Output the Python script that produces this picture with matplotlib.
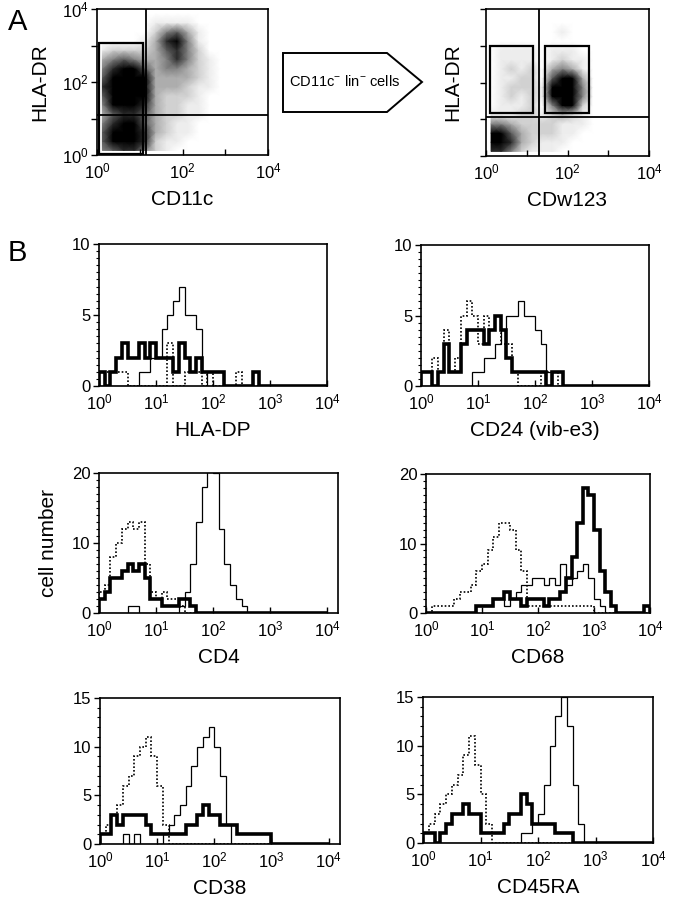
import numpy as np
from matplotlib import pyplot as plt
from matplotlib.patches import Polygon, Rectangle
from matplotlib.ticker import LogLocator, MultipleLocator, NullFormatter

plt.rcParams['font.family'] = ['Liberation Sans', 'DejaVu Sans']
plt.rcParams['mathtext.fontset'] = 'custom'
plt.rcParams['mathtext.rm'] = 'Liberation Sans'
plt.rcParams['mathtext.default'] = 'regular'

W, H = 675, 899

# ---- panel A: dot plot densities, 0.25 decade cells, rows from top (10^4) to bottom (10^0)
cd11c_grid = [
    [0, 0, 0, 0, 0, 0, 0, 0, 0, 0, 0, 0, 0, 0, 0, 0],
    [0, 0, 0, 0, 0, 1, 1, 1, 1, 0, 0, 0, 0, 0, 0, 0],
    [0, 0, 0, 0, 0, 2, 4, 5, 3, 1, 0, 0, 0, 0, 0, 0],
    [0, 0, 0, 0, 1, 3, 6, 7, 4, 1, 0, 0, 0, 0, 0, 0],
    [1, 2, 2, 2, 2, 3, 5, 6, 4, 2, 0, 0, 0, 0, 0, 0],
    [3, 4, 5, 4, 3, 3, 4, 6, 4, 2, 1, 0, 0, 0, 0, 0],
    [4, 6, 8, 7, 5, 3, 4, 4, 3, 2, 1, 0, 0, 0, 0, 0],
    [5, 9, 10, 10, 7, 3, 3, 3, 3, 2, 1, 0, 0, 0, 0, 0],
    [6, 10, 10, 10, 8, 3, 3, 3, 2, 1, 1, 0, 0, 0, 0, 0],
    [5, 9, 10, 10, 7, 3, 2, 2, 2, 1, 0, 0, 0, 0, 0, 0],
    [4, 7, 8, 8, 6, 3, 2, 2, 1, 1, 0, 0, 0, 0, 0, 0],
    [3, 5, 6, 6, 5, 3, 2, 2, 1, 1, 0, 0, 0, 0, 0, 0],
    [4, 6, 7, 7, 5, 3, 2, 1, 1, 0, 0, 0, 0, 0, 0, 0],
    [5, 8, 10, 9, 6, 3, 2, 1, 1, 0, 0, 0, 0, 0, 0, 0],
    [5, 8, 10, 9, 6, 2, 1, 1, 0, 0, 0, 0, 0, 0, 0, 0],
    [4, 5, 6, 6, 4, 2, 1, 0, 0, 0, 0, 0, 0, 0, 0, 0],
]
cdw123_grid = [
    [0, 0, 0, 0, 0, 0, 0, 0, 0, 0, 0, 0, 0, 0, 0, 0],
    [0, 0, 0, 0, 0, 0, 0, 0, 0, 0, 0, 0, 0, 0, 0, 0],
    [0, 0, 0, 0, 0, 0, 0, 1, 0, 0, 0, 0, 0, 0, 0, 0],
    [0, 0, 0, 0, 0, 0, 0, 0, 0, 0, 0, 0, 0, 0, 0, 0],
    [0, 1, 1, 1, 1, 0, 1, 1, 1, 0, 0, 0, 0, 0, 0, 0],
    [0, 1, 1, 1, 1, 0, 1, 2, 1, 1, 0, 0, 0, 0, 0, 0],
    [0, 1, 2, 1, 2, 0, 3, 4, 3, 1, 0, 0, 0, 0, 0, 0],
    [0, 1, 1, 2, 2, 0, 5, 8, 8, 3, 0, 0, 0, 0, 0, 0],
    [0, 1, 2, 2, 2, 1, 7, 10, 10, 4, 0, 0, 0, 0, 0, 0],
    [0, 1, 2, 1, 2, 1, 7, 10, 10, 4, 0, 0, 0, 0, 0, 0],
    [0, 1, 1, 1, 2, 0, 4, 7, 7, 2, 0, 0, 0, 0, 0, 0],
    [1, 1, 1, 2, 2, 1, 2, 3, 2, 1, 0, 0, 0, 0, 0, 0],
    [4, 4, 3, 2, 2, 2, 2, 1, 1, 1, 0, 0, 0, 0, 0, 0],
    [7, 8, 5, 3, 2, 2, 2, 1, 1, 0, 0, 0, 0, 0, 0, 0],
    [8, 9, 6, 3, 2, 1, 1, 1, 0, 0, 0, 0, 0, 0, 0, 0],
    [6, 6, 4, 2, 1, 1, 1, 0, 0, 0, 0, 0, 0, 0, 0, 0],
]
# gates (log10 units): quadrant lines and rectangles (x0, x1, y0, y1)
cd11c_quad = (1.15, 1.1)
cd11c_gates = [(0.04, 1.08, 0.03, 3.07)]
cdw123_quad = (1.30, 1.06)
cdw123_gates = [(0.10, 1.15, 1.17, 3.0), (1.45, 2.53, 1.17, 3.0)]

# ---- panel B: histograms, 0.1 decade bins from 10^0 to 10^4
def pad(vals):
    return vals + [0] * (40 - len(vals))

hladp_thin = pad([0, 0, 0, 0, 0, 0, 0, 1, 1, 2, 2, 4, 5, 6, 7, 5, 5, 4, 1])
hladp_thick = pad([1, 0, 1, 2, 3, 2, 2, 3, 2, 3, 2, 2, 2, 1, 3, 2, 1, 2, 1, 1, 1, 1, 0, 0, 0, 0, 0, 1])
hladp_dot = pad([1, 1, 1, 1, 1, 0, 0, 0, 0, 0, 0, 0, 3, 0, 0, 1, 1, 1, 0, 1, 0, 0, 0, 0, 1])

cd24_thin = pad([0, 0, 0, 0, 0, 0, 0, 0, 0, 1, 1, 2, 2, 3, 4, 5, 5, 6, 5, 5, 4, 3, 1])
cd24_thick = pad([1, 1, 0, 1, 3, 1, 1, 3, 4, 4, 4, 3, 4, 5, 4, 2, 1, 1, 1, 1, 1, 1, 0, 1, 1])
cd24_dot = pad([1, 1, 2, 1, 4, 1, 2, 5, 6, 5, 3, 5, 4, 5, 3, 3, 1, 0, 0, 0, 0, 1, 1, 1])

cd4_thin = pad([0, 0, 0, 0, 0, 1, 1, 0, 0, 0, 0, 0, 0, 0, 1, 3, 7, 13, 18, 21, 20, 12, 7, 4, 2, 1])
cd4_thick = pad([2, 3, 5, 5, 6, 7, 6, 7, 5, 2, 2, 1, 1, 1, 2, 2, 1])
cd4_dot = pad([3, 4, 8, 10, 12, 13, 12, 13, 7, 3, 2, 3, 2, 2, 1])

cd68_thin = pad([0, 0, 0, 0, 0, 0, 0, 0, 0, 1, 1, 1, 2, 2, 1, 2, 3, 4, 4, 5, 5, 4, 5, 4, 7, 4, 5, 6, 7, 5, 2, 1])
cd68_thick = pad([0, 0, 0, 0, 0, 0, 0, 0, 0, 1, 1, 1, 2, 2, 3, 2, 2, 1, 2, 2, 2, 1, 2, 2, 3, 5, 8, 13, 18, 17,
                  12, 6, 3, 1, 0, 0, 0, 0, 0, 1])
cd68_dot = pad([0, 1, 1, 1, 1, 2, 3, 3, 4, 6, 7, 9, 11, 13, 13, 12, 9, 6, 1, 1, 1, 1, 1, 1, 1, 1, 1, 1, 1, 1])

cd38_thin = pad([0, 0, 0, 0, 1, 0, 1, 0, 0, 0, 0, 1, 2, 3, 4, 6, 8, 10, 11, 12, 10, 7, 2])
cd38_thick = pad([1, 1, 3, 2, 3, 3, 3, 3, 2, 1, 1, 1, 1, 1, 1, 2, 2, 3, 4, 3, 3, 2, 2, 2, 1, 1, 1, 1, 1, 1])
cd38_dot = pad([1, 2, 3, 4, 6, 7, 9, 10, 11, 9, 6, 2])

cd45ra_thin = pad([0, 0, 0, 0, 0, 0, 0, 0, 0, 0, 0, 0, 0, 0, 0, 0, 0, 1, 1, 2, 3, 6, 10, 13, 15, 12, 6, 2])
cd45ra_thick = pad([1, 1, 0, 1, 2, 3, 3, 4, 3, 3, 1, 1, 1, 1, 2, 3, 3, 5, 4, 2, 2, 2, 2, 1, 1, 1])
cd45ra_dot = pad([1, 2, 3, 4, 5, 6, 7, 9, 11, 8, 5, 2])

edges = 10 ** np.linspace(0, 4, 41)
decade_labels = ['$10^{%d}$' % i for i in range(5)]


def add_ax(fig, l, t, r, b):
    return fig.add_axes([l / W, 1 - b / H, (r - l) / W, (b - t) / H])


def log_xaxis(ax, labels, xmax=1e4):
    ax.set_xscale('log')
    ax.set_xlim(1, xmax)
    ax.set_xticks([1, 10, 100, 1000, 10000])
    ax.set_xticklabels(labels)
    ax.xaxis.set_minor_locator(LogLocator(base=10, subs=np.arange(2, 10)))
    ax.xaxis.set_minor_formatter(NullFormatter())


def style(ax):
    for s in ax.spines.values():
        s.set_linewidth(1.2)
    ax.tick_params(axis='x', which='both', direction='in', labelsize=12, pad=5)
    ax.tick_params(axis='y', which='both', direction='out', labelsize=12, pad=2)
    ax.tick_params(which='major', length=4, width=1)
    ax.tick_params(which='minor', length=2.5, width=0.8)


def dot_plot(ax, grid, quad, gates, xlab, ylabels, ypad):
    c = np.array(grid, dtype=float)[::-1]
    centers = 10 ** (0.125 + 0.25 * np.arange(16))
    X, Y = np.meshgrid(centers, centers)
    ax.pcolormesh(X, Y, c, cmap='Greys', vmin=0, vmax=7, shading='gouraud')
    log_xaxis(ax, ['$10^{0}$', '', '$10^{2}$', '', '$10^{4}$'])
    ax.set_yscale('log')
    ax.set_ylim(1, 1e4)
    ax.set_yticks([1, 10, 100, 1000, 10000])
    ax.set_yticklabels(ylabels)
    ax.yaxis.set_minor_locator(LogLocator(base=10, subs=np.arange(2, 10)))
    ax.yaxis.set_minor_formatter(NullFormatter())
    ax.axvline(10 ** quad[0], color='black', lw=1.3)
    ax.axhline(10 ** quad[1], color='black', lw=1.3)
    for x0, x1, y0, y1 in gates:
        ax.add_patch(Rectangle((10 ** x0, 10 ** y0), 10 ** x1 - 10 ** x0, 10 ** y1 - 10 ** y0,
                               fill=False, ec='black', lw=1.6))
    style(ax)
    ax.set_xlabel(xlab, fontsize=15, labelpad=6)
    ax.set_ylabel('HLA-DR', fontsize=15, labelpad=ypad)


def histo(ax, thin, thick, dot, ymax, ystep, minor, xlab, xmax):
    ax.stairs(dot, edges, color='black', lw=1.2, ls=(0, (1, 1.2)))
    ax.stairs(thin, edges, color='black', lw=0.9)
    ax.stairs(thick, edges, color='black', lw=2.6)
    log_xaxis(ax, decade_labels, xmax)
    ax.set_ylim(0, ymax)
    ax.yaxis.set_major_locator(MultipleLocator(ystep))
    ax.yaxis.set_minor_locator(MultipleLocator(minor))
    style(ax)
    ax.set_xlabel(xlab, fontsize=15, labelpad=6)


fig = plt.figure(figsize=(W / 100, H / 100), dpi=100)

# Panel A (right dot plot has no y tick labels)
ax1 = add_ax(fig, 97, 9, 268, 155)
dot_plot(ax1, cd11c_grid, cd11c_quad, cd11c_gates, 'CD11c',
         ['$10^{0}$', '', '$10^{2}$', '', '$10^{4}$'], 9)
ax2 = add_ax(fig, 486, 9, 649, 156)
dot_plot(ax2, cdw123_grid, cdw123_quad, cdw123_gates, 'CDw123', [''] * 5, 11)

arrow = [(283, 53), (387, 53), (422, 82), (387, 112), (283, 112)]
fig.patches.append(Polygon([(x / W, 1 - y / H) for x, y in arrow], closed=True, fill=False,
                           ec='black', lw=1.4, transform=fig.transFigure))
fig.text(345 / W, 1 - 82 / H, 'CD11c$^{-}$ lin$^{-}$ cells', fontsize=10.5, ha='center', va='center')

# Panel B (left column boxes run a little past 10^4 on the lower two rows)
axes_b = [
    ((99, 244, 327, 386), hladp_thin, hladp_thick, hladp_dot, 10, 5, 0.5, 'HLA-DP', 1e4),
    ((421, 245, 649, 386), cd24_thin, cd24_thick, cd24_dot, 10, 5, 0.5, 'CD24 (vib-e3)', 1e4),
    ((99, 473, 338, 613), cd4_thin, cd4_thick, cd4_dot, 20, 10, 1, 'CD4', 10 ** 4.19),
    ((426, 474, 650, 613), cd68_thin, cd68_thick, cd68_dot, 20, 10, 1, 'CD68', 1e4),
    ((100, 698, 340, 844), cd38_thin, cd38_thick, cd38_dot, 15, 5, 1, 'CD38', 10 ** 4.2),
    ((423, 697, 653, 843), cd45ra_thin, cd45ra_thick, cd45ra_dot, 15, 5, 1, 'CD45RA', 1e4),
]
for box, thin, thick, dot, ymax, ystep, minor, xlab, xmax in axes_b:
    ax = add_ax(fig, *box)
    histo(ax, thin, thick, dot, ymax, ystep, minor, xlab, xmax)
    if xlab == 'CD4':
        ax.set_ylabel('cell number', fontsize=15, labelpad=10)

fig.text(8 / W, 1 - 22 / H, 'A', fontsize=21, va='center', ha='left')
fig.text(8 / W, 1 - 253 / H, 'B', fontsize=21, va='center', ha='left')

plt.savefig('out.png', dpi=100)
